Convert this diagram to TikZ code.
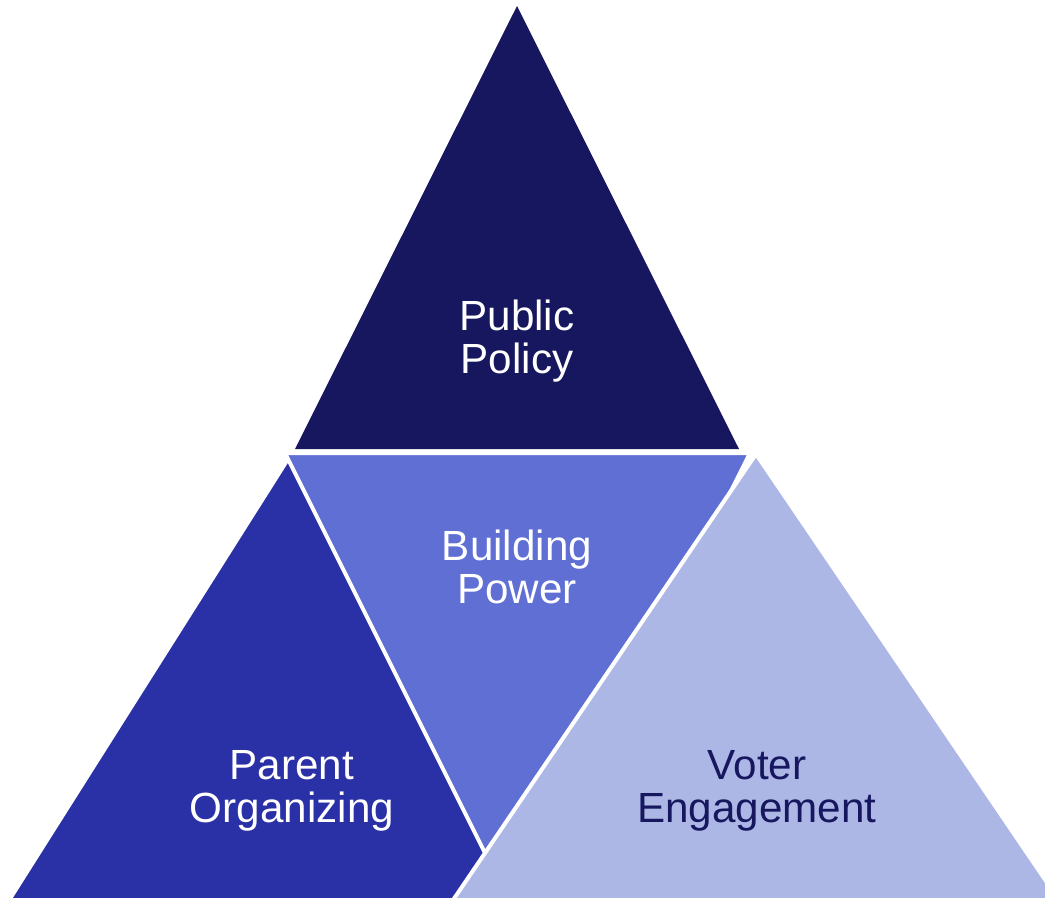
\documentclass[tikz,border=0pt]{standalone}
\usepackage{fontspec}
\setmainfont{Liberation Sans}
\definecolor{navy}{HTML}{16175E}
\definecolor{royal}{HTML}{2A31A6}
\definecolor{periwinkle}{HTML}{606FD4}
\definecolor{lavender}{HTML}{ADB7E6}
\tikzset{
  tri/.style={draw=white, line width=0.1cm, line join=miter},
  lbl/.style={align=center, font=\fontsize{30}{30.6}\selectfont}
}
\begin{document}
\begin{tikzpicture}[x=0.025cm, y=-0.025cm]
\useasboundingbox (0,0) rectangle (1045,897);
\clip (0,0) rectangle (1045,897);
% top triangle
\coordinate (T) at (517,6);
\coordinate (TL) at (295,449);
\coordinate (TR) at (739,449);
\fill[navy] (T) -- (TL) -- (TR) -- cycle;
% left triangle
\coordinate (L) at (288,459);
\coordinate (LL) at (6,905);
\coordinate (LR) at (570,905);
\draw[tri, fill=royal] (L) -- (LL) -- (LR) -- cycle;
% middle triangle, upside down
\coordinate (ML) at (285,453);
\coordinate (MR) at (750,453);
\coordinate (M) at (517.5,918);
\draw[tri, fill=periwinkle] (ML) -- (MR) -- (M) -- cycle;
% right triangle
\coordinate (R) at (756,454);
\coordinate (RL) at (449,906);
\coordinate (RR) at (1063,906);
\draw[tri, fill=lavender] (R) -- (RL) -- (RR) -- cycle;
% labels
\node[lbl, text=white] (policy) at (517,341) {Public\\Policy};
\node[lbl, text=white] (power) at (517,567) {Building\\Power};
\node[lbl, text=white] (parent) at (292,791) {Parent\\Organizing};
\node[lbl, text=navy] (voter) at (757,791) {Voter\\Engagement};
\end{tikzpicture}
\end{document}
